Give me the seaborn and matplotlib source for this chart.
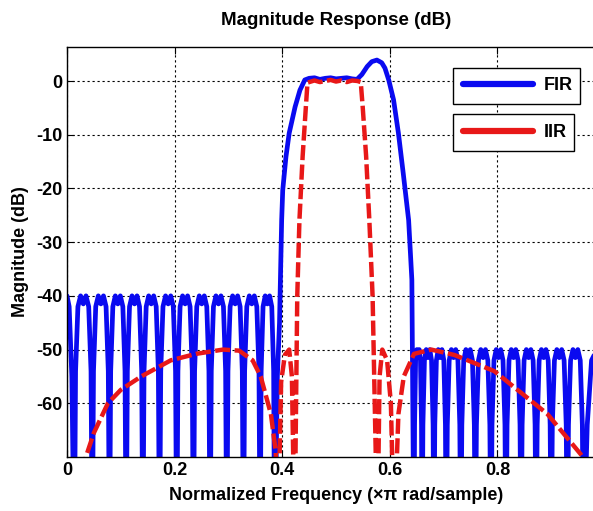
import matplotlib
matplotlib.use('Agg')
import matplotlib.pyplot as plt
from matplotlib.lines import Line2D
import pandas as pd
import seaborn as sns

# ---- FIR (blue) ----
# start of the curve at f=0, before the first deep null
fir_start_f = [0.0, 0.004, 0.009]
fir_start_db = [-40, -42, -55]
# deep nulls in the stopbands
fir_left_nulls = [0.0136, 0.047, 0.079, 0.110, 0.141, 0.172, 0.204,
                  0.235, 0.266, 0.297, 0.328, 0.359, 0.386]
fir_left_peak = -40
fir_right_nulls = [0.645, 0.660, 0.682, 0.705, 0.732, 0.759, 0.788,
                   0.816, 0.844, 0.872, 0.900, 0.930, 0.960]
fir_right_peak = -50
# shape of one stopband period between two deep nulls
lobe_pos = [0.07, 0.2, 0.35, 0.5, 0.65, 0.8, 0.93]
lobe_drop = [-14, -2, 0, -1.5, 0, -2, -14]
null_db = -90
# transition bands + passband
fir_band_f = [0.391, 0.395, 0.398, 0.399, 0.401, 0.407, 0.413, 0.424, 0.433,
              0.442, 0.450, 0.460, 0.470, 0.480, 0.490, 0.500, 0.510, 0.520,
              0.530, 0.539, 0.548, 0.558, 0.5665, 0.576, 0.585, 0.591, 0.598,
              0.607, 0.616, 0.625, 0.635, 0.641]
fir_band_db = [-55, -45, -30, -25.9, -20.3, -14.1, -9.7, -4.8, -1.7,
               0.2, 0.5, 0.6, 0.3, 0.5, 0.6, 0.4, 0.5, 0.6,
               0.4, 0.3, 1.2, 2.7, 3.6, 3.9, 3.4, 2.4, 0.2,
               -3.5, -9.7, -17.2, -25.9, -37]
fir_tail_f = [0.967, 0.975, 0.985, 1.0]
fir_tail_db = [-64, -52, -50, -52]

# ---- IIR (red, dashed) ----
iir_f = [0.020, 0.035, 0.050, 0.076, 0.100, 0.138, 0.193, 0.240, 0.290, 0.320,
         0.345, 0.360, 0.379, 0.388, 0.392, 0.398, 0.405, 0.413, 0.418, 0.423,
         0.428, 0.432, 0.438, 0.444, 0.447, 0.460, 0.470, 0.480, 0.490, 0.500,
         0.510, 0.520, 0.530, 0.540, 0.546, 0.5496, 0.556, 0.562, 0.568, 0.577,
         0.581, 0.586, 0.595, 0.602, 0.608, 0.616, 0.626, 0.645, 0.677, 0.720,
         0.794, 0.893, 0.955, 1.0]
iir_db = [-80, -70, -65.5, -60, -57.5, -55, -52, -50.8, -50, -50.2,
          -52, -55, -62, -69, -85, -56, -51, -50, -55, -85,
          -40, -26, -14, -4.8, -0.3, 0.1, -0.2, 0.0, 0.2, -0.1,
          0.1, -0.2, 0.1, 0.0, -0.2, -4.8, -14, -26, -40, -85,
          -55, -50, -52, -60, -85, -62, -55, -50.8, -50, -51,
          -54, -62, -69.5, -76]

x_ticks = [0, 0.2, 0.4, 0.6, 0.8]
y_ticks = [0, -10, -20, -30, -40, -50, -60]


def stopband(nulls, peak):
    f, db = [], []
    for a, b in zip(nulls[:-1], nulls[1:]):
        f.append(a)
        db.append(null_db)
        for p, d in zip(lobe_pos, lobe_drop):
            f.append(a + p * (b - a))
            db.append(peak + d)
    f.append(nulls[-1])
    db.append(null_db)
    return f, db


lf, ldb = stopband(fir_left_nulls, fir_left_peak)
rf, rdb = stopband(fir_right_nulls, fir_right_peak)
fir = pd.DataFrame({
    'f': fir_start_f + lf + fir_band_f + rf + fir_tail_f,
    'db': fir_start_db + ldb + fir_band_db + rdb + fir_tail_db,
})
iir = pd.DataFrame({'f': iir_f, 'db': iir_db})

sns.set_style('ticks')
plt.rcParams['font.family'] = ['Liberation Sans', 'DejaVu Sans']
plt.rcParams['font.weight'] = 'bold'
plt.rcParams['axes.unicode_minus'] = False
for k in ['text.color', 'axes.labelcolor', 'xtick.color', 'ytick.color', 'axes.edgecolor']:
    plt.rcParams[k] = 'black'

fig = plt.figure(figsize=(5.93, 5.11), dpi=100)
ax = fig.add_axes([67 / 593, 54 / 511, 538 / 593, 410 / 511])

blue = '#0a0af0'
red = '#e81818'
sns.lineplot(data=fir, x='f', y='db', ax=ax, color=blue, lw=3.4,
             estimator=None, sort=False)
sns.lineplot(data=iir, x='f', y='db', ax=ax, color=red, lw=3.2,
             estimator=None, sort=False, linestyle=(0, (3.4, 1.0)))

ax.set_xlim(0, 1)
ax.set_ylim(-70, 6.33)
ax.set_xticks(x_ticks)
ax.set_xticklabels(['0', '0.2', '0.4', '0.6', '0.8'])
ax.set_yticks(y_ticks)
ax.grid(True, color='black', linestyle=(0, (2, 2.5)), lw=0.8)
ax.tick_params(direction='in', length=5, top=True, labelsize=13, width=0.8,
               colors='black')
for s in ax.spines.values():
    s.set_linewidth(1.0)
    s.set_color('black')

ax.set_title('Magnitude Response (dB)', fontsize=13.5, fontweight='bold', pad=16)
ax.set_xlabel('Normalized Frequency (\u00d7\u03c0 rad/sample)', fontsize=13,
              fontweight='bold', labelpad=6)
ax.set_ylabel('Magnitude (dB)', fontsize=13, fontweight='bold', labelpad=5)

# two separate legend boxes, like the original
prop = {'weight': 'bold', 'size': 13}
h_fir = Line2D([], [], color=blue, lw=4.5)
h_iir = Line2D([], [], color=red, lw=4.5)
leg1 = ax.legend([h_fir], ['FIR'], loc='center', mode='expand',
                 bbox_to_anchor=(0.70, 0.858, 0.27, 0.094), prop=prop,
                 fancybox=False, edgecolor='black', framealpha=1,
                 handlelength=3.9, borderpad=0.55, handletextpad=0.6)
leg1.get_frame().set_linewidth(1.0)
ax.add_artist(leg1)
leg2 = ax.legend([h_iir], ['IIR'], loc='center', mode='expand',
                 bbox_to_anchor=(0.70, 0.746, 0.26, 0.091), prop=prop,
                 fancybox=False, edgecolor='black', framealpha=1,
                 handlelength=3.9, borderpad=0.55, handletextpad=0.6)
leg2.get_frame().set_linewidth(1.0)

fig.savefig('out.png', dpi=100, facecolor='white')
